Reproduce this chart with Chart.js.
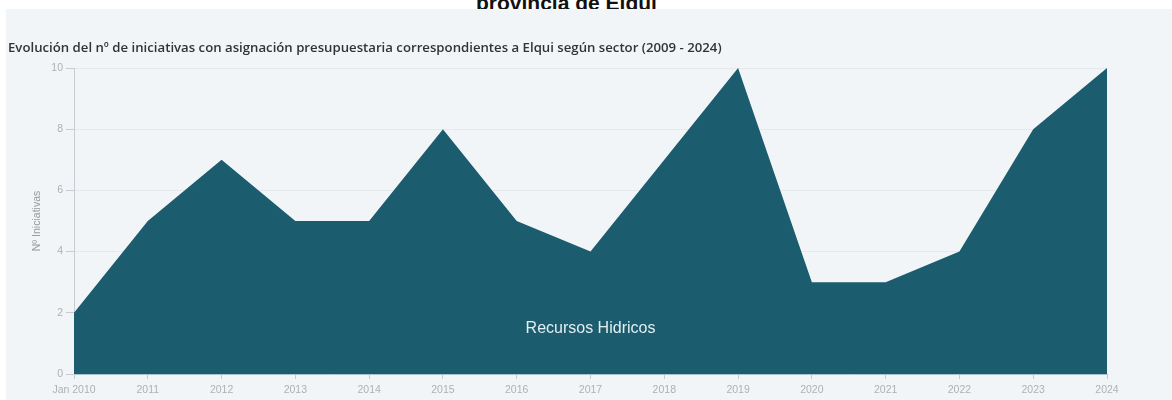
<!DOCTYPE html>
<html>
<head>
<meta charset="utf-8">
<script src="https://cdn.jsdelivr.net/npm/chart.js@4"></script>
<style>
  html, body { margin: 0; padding: 0; background: #fff; }
  body { width: 1172px; height: 400px; position: relative; overflow: hidden; }
  #topTitle {
    position: absolute; left: 476px; top: -9px; white-space: nowrap;
    font: bold 21px "Liberation Sans", Arial, sans-serif; color: #111;
  }
  #panel {
    position: absolute; left: 6px; top: 9px; width: 1166px; height: 391px;
    background: #f2f5f8;
  }
  #subTitle {
    position: absolute; left: 2px; top: 29px; white-space: nowrap;
    font: 600 13.2px "Open Sans", sans-serif; color: #333;
  }
  #wrap { position: absolute; left: 0; top: 0; width: 1166px; height: 391px; }
</style>
</head>
<body>
<div id="topTitle">provincia de Elqui</div>
<div id="panel">
  <div id="wrap"><canvas id="grafica"></canvas></div>
  <div id="subTitle">Evolución del nº de iniciativas con asignación presupuestaria correspondientes a Elqui según sector (2009 - 2024)</div>
</div>
<script>
// Datos
const anios = ["Jan 2010", "2011", "2012", "2013", "2014", "2015", "2016", "2017",
  "2018", "2019", "2020", "2021", "2022", "2023", "2024"];
const recursosHidricos = [2, 5, 7, 5, 5, 8, 5, 4, 7, 10, 3, 3, 4, 8, 10];
const ticksY = [0, 2, 4, 6, 8, 10];

// Etiqueta de la serie dentro del área
const etiquetaSerie = {
  id: "etiquetaSerie",
  afterDatasetsDraw(chart) {
    const { ctx, chartArea, scales } = chart;
    ctx.save();
    ctx.font = "16px 'Liberation Sans', Arial, sans-serif";
    ctx.fillStyle = "#e3eef2";
    ctx.textAlign = "center";
    ctx.textBaseline = "middle";
    ctx.fillText("Recursos Hidricos", (chartArea.left + chartArea.right) / 2, scales.y.getPixelForValue(1.5));
    ctx.restore();
  },
};

Chart.defaults.font.family = "'Liberation Sans', Arial, sans-serif";
Chart.defaults.color = "#b0b0b0";

new Chart(document.getElementById("grafica"), {
  type: "line",
  data: {
    labels: anios,
    datasets: [
      {
        label: "Recursos Hidricos",
        data: recursosHidricos,
        fill: "origin",
        backgroundColor: "#1b5d6e",
        borderWidth: 0,
        pointRadius: 0,
        tension: 0,
      },
    ],
  },
  options: {
    responsive: true,
    maintainAspectRatio: false,
    animation: false,
    layout: { padding: { left: 0, top: 59, right: 65, bottom: 0 } },
    plugins: {
      legend: { display: false },
      tooltip: { enabled: false },
    },
    scales: {
      x: {
        offset: false,
        grid: { drawOnChartArea: false, drawTicks: true, tickLength: 5, color: "#c8ccd0" },
        border: { display: true, color: "#a9c3cc" },
        ticks: { font: { size: 10.5 }, color: "#b0b0b0", padding: 5, maxRotation: 0, autoSkip: false },
        afterFit(scale) { scale.height = 26; },
      },
      y: {
        min: 0,
        max: 10,
        afterBuildTicks(scale) { scale.ticks = ticksY.map((v) => ({ value: v })); },
        grid: { color: "#e6e9ec", drawTicks: true, tickLength: 8, tickColor: "#c8ccd0" },
        border: { display: true, color: "#c8ccd0" },
        ticks: { font: { size: 10.5 }, color: "#b0b0b0", padding: 3 },
        title: {
          display: true,
          text: "Nº Iniciativas",
          font: { size: 10.5 },
          color: "#999",
          padding: { top: 25, bottom: 0 },
        },
        afterFit(scale) { scale.width = 68; },
      },
    },
  },
  plugins: [etiquetaSerie],
});
</script>
</body>
</html>
